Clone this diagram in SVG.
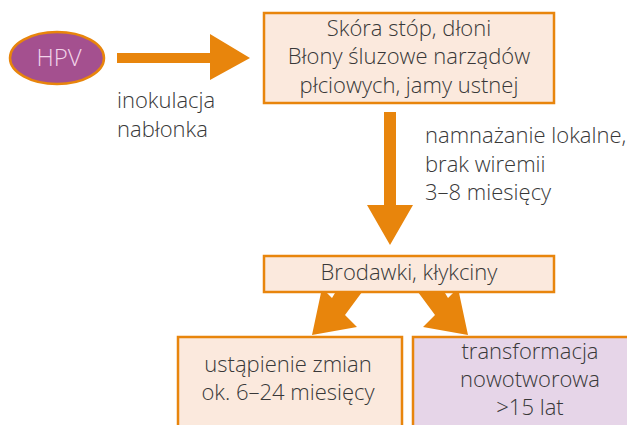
<svg xmlns="http://www.w3.org/2000/svg" width="627" height="425" viewBox="0 0 627 425">
<style>
.box{fill:#fbe9dd;stroke:#e8850c;stroke-width:2.5}
.arr{fill:#e8850c}
text{font-family:"Open Sans","Liberation Sans",sans-serif;font-weight:300;font-size:22px;fill:#383838}
.c{text-anchor:middle}
</style>
<rect width="627" height="425" fill="#fff"/>
<g id="connectors">
<polygon class="arr" points="117,53 210,53 210,34 250,58 210,80 210,63 117,63"/>
<polygon class="arr" points="384,112 396,112 396,205 413,205 390,245 367,205 384,205"/>
<polygon class="arr" points="338,288 365,288 345,315 357,327 312,335 322,288 332,298"/>
<polygon class="arr" points="442,288 415,288 435,315 423,327 468,335 458,288 448,298"/>
</g>
<g id="hpv">
<ellipse cx="57" cy="58" rx="47" ry="26" fill="#a4508f" stroke="#e8850c" stroke-width="2.5"/>
<text class="c" x="59" y="66" style="fill:#f2d4ea;font-size:24px">HPV</text>
</g>
<g id="label-inokulacja">
<text x="117" y="108">inokulacja</text>
<text x="117" y="137">nabłonka</text>
</g>
<g id="skora">
<rect class="box" x="264" y="13" width="290" height="90"/>
<text class="c" x="409" y="36">Skóra stóp, dłoni</text>
<text class="c" x="409" y="64">Błony śluzowe narządów</text>
<text class="c" x="409" y="93">płciowych, jamy ustnej</text>
</g>
<g id="label-namnazanie">
<text x="425" y="143">namnażanie lokalne,</text>
<text x="425" y="172">brak wiremii</text>
<text x="425" y="200">3–8 miesięcy</text>
</g>
<g id="brodawki">
<rect class="box" x="264" y="256" width="290" height="36"/>
<text class="c" x="409" y="280">Brodawki, kłykciny</text>
</g>
<g id="ustapienie">
<rect class="box" x="178" y="337" width="224" height="100"/>
<text class="c" x="288" y="372">ustąpienie zmian</text>
<text class="c" x="288" y="400">ok. 6–24 miesięcy</text>
</g>
<g id="transformacja">
<rect class="box" x="413" y="337" width="230" height="100" style="fill:#e6d5e8"/>
<text class="c" x="530" y="359">transformacja</text>
<text class="c" x="530" y="387">nowotworowa</text>
<text class="c" x="530" y="415">&gt;15 lat</text>
</g>
</svg>
